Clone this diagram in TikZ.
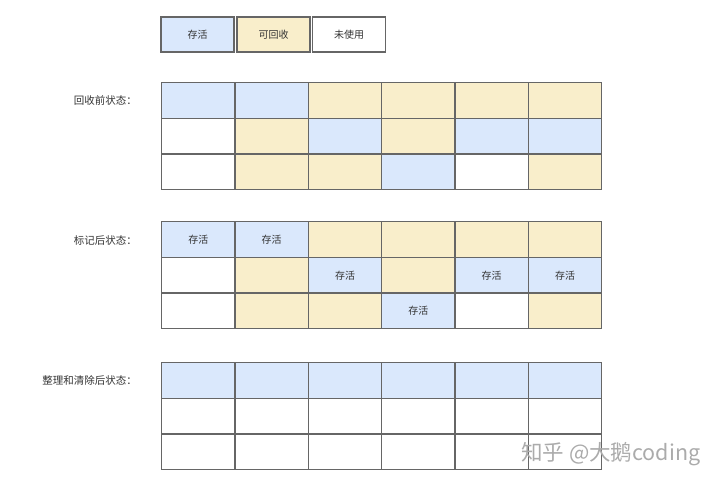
\documentclass[tikz,border=0pt]{standalone}
\usepackage{fontspec}
\setmainfont{Noto Sans CJK SC}
\begin{document}
\begin{tikzpicture}[x=1pt,y=1pt,
  cell/.style={draw=lineGray, line width=1.4pt, minimum width=73.33pt, minimum height=35.67pt, inner sep=0pt, anchor=north west, font=\fontsize{10}{12}\selectfont, text=textGray},
  sB/.style={fill=cB},
  sY/.style={fill=cY},
  sW/.style={fill=white},
  legend/.style={draw=lineGray, line width=1.4pt, minimum width=73pt, minimum height=35pt, inner sep=0pt, font=\fontsize{10}{12}\selectfont, text=textGray},
  statelabel/.style={anchor=east, inner sep=0pt, font=\fontsize{10.5}{12}\selectfont, text=textGray}
]
\definecolor{cB}{HTML}{DAE8FC}
\definecolor{cY}{HTML}{F9EECB}
\definecolor{lineGray}{HTML}{666666}
\definecolor{textGray}{HTML}{333333}
\definecolor{wmGray}{HTML}{ABABAB}
\def\liveletter{B}
\useasboundingbox (0,0) rectangle (720,488);

% legend
\node[legend, fill=cB] (legAlive) at (197.5,453.5) {存活};
\node[legend, fill=cY] (legRecl) at (273.5,453.5) {可回收};
\node[legend, fill=white] (legFree) at (349,453.5) {未使用};

% state labels
\node[statelabel] (lab1) at (137,388) {回收前状态：};
\node[statelabel] (lab2) at (137,248) {标记后状态：};
\node[statelabel] (lab3) at (137,108) {整理和清除后状态：};

% grid 1: before collection
\foreach \row [count=\r from 0] in {{B,B,Y,Y,Y,Y},{W,Y,B,Y,B,B},{W,Y,Y,B,W,Y}}{
  \foreach \k [count=\c from 0] in \row {
    \node[cell, s\k] (ga-\r-\c) at (161+\c*73.33, 406-\r*35.67) {};
  }
}
% grid 2: after marking (live cells labelled)
\foreach \row [count=\r from 0] in {{B,B,Y,Y,Y,Y},{W,Y,B,Y,B,B},{W,Y,Y,B,W,Y}}{
  \foreach \k [count=\c from 0] in \row {
    \node[cell, s\k] (gb-\r-\c) at (161+\c*73.33, 267-\r*35.67) {\ifx\k\liveletter 存活\fi};
  }
}
% grid 3: after compaction
\foreach \row [count=\r from 0] in {{B,B,B,B,B,B},{W,W,W,W,W,W},{W,W,W,W,W,W}}{
  \foreach \k [count=\c from 0] in \row {
    \node[cell, s\k] (gc-\r-\c) at (161+\c*73.33, 126-\r*35.67) {};
  }
}

% watermark
\node[anchor=west, inner sep=0pt, text=wmGray, font=\fontsize{21.5}{24}\selectfont] (wm) at (521,34) {知乎 @大鹅coding};
\end{tikzpicture}
\end{document}
